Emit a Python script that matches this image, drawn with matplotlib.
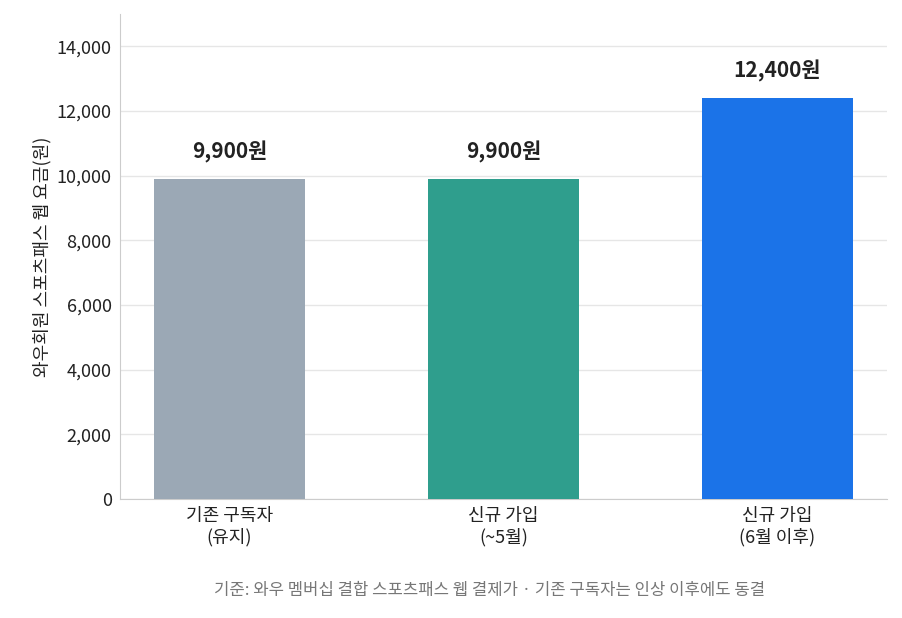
import matplotlib
matplotlib.use("Agg")
import matplotlib.pyplot as plt

plt.rcParams['font.family'] = ['Noto Sans CJK KR', 'DejaVu Sans']

categories = ["기존 구독자\n(유지)", "신규 가입\n(~5월)", "신규 가입\n(6월 이후)"]
values = [9900, 9900, 12400]
labels = ["9,900원", "9,900원", "12,400원"]
colors = ["#9BA8B5", "#2F9E8D", "#1B73E8"]

fig = plt.figure(figsize=(9.02, 6.18), dpi=100)
ax = fig.add_axes([120/902, 1-499/618, (887-120)/902, (499-14)/618])
x = range(len(values))
ax.bar(x, values, width=0.55, color=colors, zorder=3)
for i, (v, l) in enumerate(zip(values, labels)):
    ax.text(i, v + 500, l, ha='center', va='bottom', fontsize=15, fontweight='bold', color='#222222')
ax.set_xlim(-0.4, 2.4)
ax.set_ylim(0, 15000)
ax.set_yticks(range(0, 15000, 2000))
ax.set_yticklabels([f"{t:,}" for t in range(0, 15000, 2000)], fontsize=13, color='#222222')
ax.set_xticks(list(x))
ax.set_xticklabels(categories, fontsize=13, color='#222222')
ax.tick_params(axis='both', length=0, pad=6)
ax.set_ylabel("와우회원 스포츠패스 웹 요금(원)", fontsize=13, color='#222222')
ax.grid(axis='y', color='#E6E6E6', linewidth=1, zorder=0)
for s in ['top', 'right']:
    ax.spines[s].set_visible(False)
for s in ['left', 'bottom']:
    ax.spines[s].set_color('#CCCCCC')
fig.text(490/902, 1-591/618, "기준: 와우 멤버십 결합 스포츠패스 웹 결제가 · 기존 구독자는 인상 이후에도 동결",
         ha='center', va='center', fontsize=12, color='#777777')
fig.savefig("out.png", dpi=100)
